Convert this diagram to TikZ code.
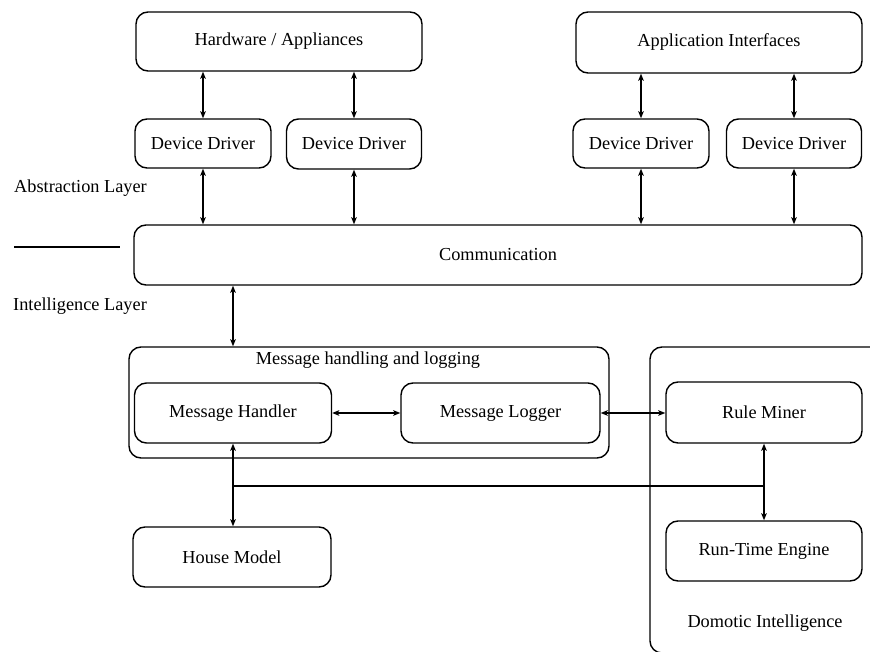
\documentclass[tikz,border=0pt]{standalone}
\usepackage{fontspec}
\setmainfont{Liberation Serif}
\usetikzlibrary{arrows.meta}
\begin{document}
\begin{tikzpicture}[x=1pt,y=-1pt,
  box/.style={draw, line width=1.4pt, rounded corners=12pt, inner sep=0pt,
    font=\fontsize{18.3}{22}\selectfont},
  lbl/.style={font=\fontsize{18.3}{22}\selectfont, inner sep=0pt},
  link/.style={line width=1.4pt},
  biarrow/.style={link, {Stealth[length=7pt,width=5.5pt,inset=1.5pt]}-{Stealth[length=7pt,width=5.5pt,inset=1.5pt]}}]
\clip (0,0) rectangle (870,652);
\fill[white] (0,0) rectangle (870,652);

% upper row: hardware and interfaces
\node[box, minimum width=286pt, minimum height=59pt] (hw) at (279,41.5) {Hardware / Appliances};
\node[box, minimum width=286pt, minimum height=61pt] (app) at (719,42.5) {Application Interfaces};

% device drivers
\node[box, minimum width=136pt, minimum height=49pt] (dd1) at (203,143.5) {Device Driver};
\node[box, minimum width=135pt, minimum height=50pt] (dd2) at (354,144) {Device Driver};
\node[box, minimum width=136pt, minimum height=49pt] (dd3) at (641,143.5) {Device Driver};
\node[box, minimum width=135pt, minimum height=49pt] (dd4) at (794,143.5) {Device Driver};

% communication bus
\node[box, minimum width=728pt, minimum height=60pt] (comm) at (498,255) {Communication};

% layer labels and separator
\node[lbl, anchor=west] (abs) at (14,188) {Abstraction Layer};
\node[lbl, anchor=west] (intl) at (13,306) {Intelligence Layer};
\coordinate (sepA) at (14,247);
\coordinate (sepB) at (120,247);
\draw[link] (sepA) -- (sepB);

% message handling group
\node[box, minimum width=480pt, minimum height=111pt] (mhl) at (369,402.5) {};
\node[lbl] (mhltitle) at (368,360) {Message handling and logging};
\node[box, minimum width=197pt, minimum height=60pt] (mh) at (233,413) {Message Handler};
\node[box, minimum width=199pt, minimum height=60pt] (ml) at (500.5,413) {Message Logger};

% domotic intelligence group (runs off the right and bottom edges)
\draw[link, rounded corners=12pt] (880,347) -- (650,347) -- (650,653) -- (880,653);
\node[box, minimum width=196pt, minimum height=61pt] (rm) at (764,412.5) {Rule Miner};
\node[box, minimum width=196pt, minimum height=60pt] (rte) at (764,551) {Run-Time Engine};
\node[lbl] (domtitle) at (765,623) {Domotic Intelligence};

% house model
\node[box, minimum width=198pt, minimum height=60pt] (hm) at (232,557) {House Model};

% connectors
\draw[biarrow] (hw.south -| dd1.north) -- (dd1.north);
\draw[biarrow] (hw.south -| dd2.north) -- (dd2.north);
\draw[biarrow] (app.south -| dd3.north) -- (dd3.north);
\draw[biarrow] (app.south -| dd4.north) -- (dd4.north);
\draw[biarrow] (dd1.south) -- (dd1.south |- comm.north);
\draw[biarrow] (dd2.south) -- (dd2.south |- comm.north);
\draw[biarrow] (dd3.south) -- (dd3.south |- comm.north);
\draw[biarrow] (dd4.south) -- (dd4.south |- comm.north);
\draw[biarrow] (comm.south -| mh.north) -- (mhl.north -| mh.north);
\draw[biarrow] (mh.east) -- (ml.west);
\draw[biarrow] (ml.east) -- (ml.east -| rm.west);
\draw[biarrow] (mh.south) -- (hm.north -| mh.south);
\draw[biarrow] (rm.south) -- (rte.north);
\coordinate (jl) at (233,486);
\draw[link] (jl) -- (jl -| rm.south);
\end{tikzpicture}
\end{document}
